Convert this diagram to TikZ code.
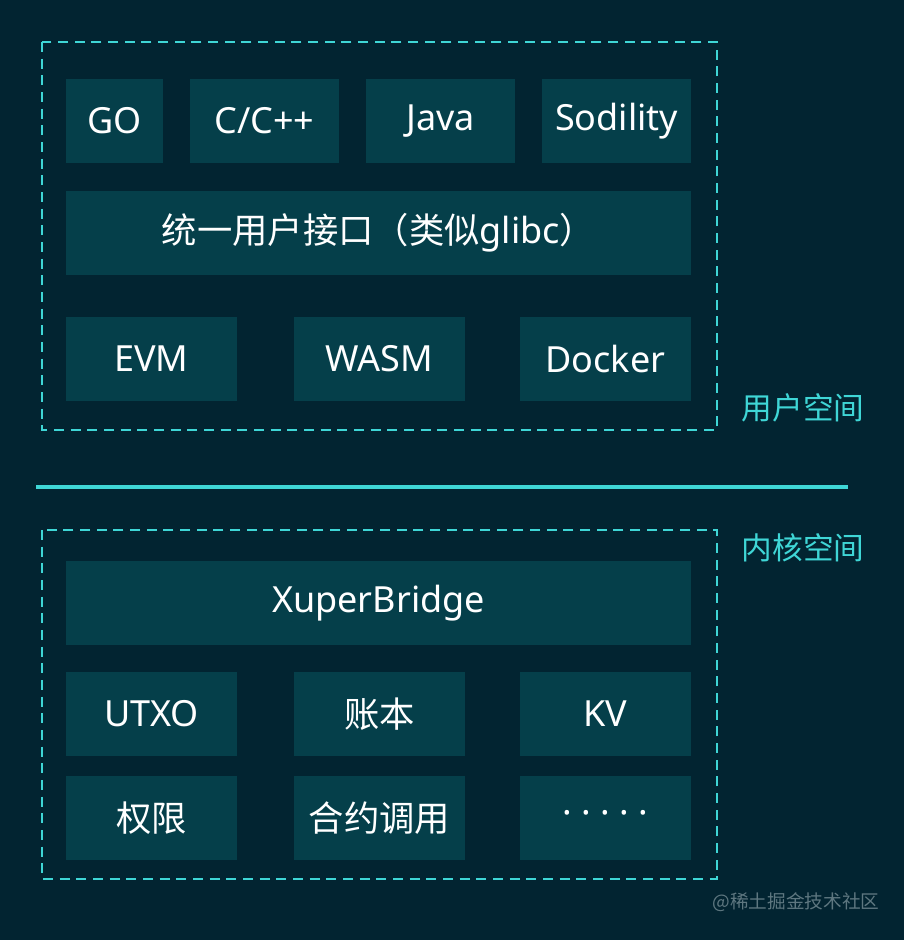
\documentclass[tikz,border=0pt]{standalone}
\usepackage{xcolor}
\usepackage{fontspec}
\setmainfont{Noto Sans}
\newfontfamily\cjk{Noto Sans CJK SC}
\usepackage{tikz}
\usetikzlibrary{positioning}
\definecolor{bgnavy}{HTML}{022431}
\definecolor{boxteal}{HTML}{053F4A}
\definecolor{accentcyan}{HTML}{3FD6D6}
\definecolor{markgray}{HTML}{5E7780}
\newcommand{\dotgap}{\kern7pt}
\newcommand{\cjksize}{\cjk\fontsize{26.5}{30}\selectfont}

\begin{document}
\begin{tikzpicture}[x=0.75pt, y=-0.75pt,
  blk/.style={fill=boxteal, text=white, inner sep=0pt, minimum height=63pt, font=\fontsize{27}{30}\selectfont},
  small/.style={blk, minimum width=72.75pt},
  mid/.style={blk, minimum width=111.75pt},
  wide/.style={blk, minimum width=128.25pt},
  full/.style={blk, minimum width=468.75pt},
  hanzi/.style={font=\cjksize},
  zone/.style={draw=accentcyan, line width=1.5pt, dash pattern=on 7.5pt off 5pt},
  zonelabel/.style={text=accentcyan, font=\cjk\fontsize{23}{28}\selectfont}
]

% Background
\fill[bgnavy] (0,0) rectangle (904,940);
\useasboundingbox (0,0) rectangle (904,940);

% User space
\draw[zone] (42,42) rectangle (717,430);
\node[small] (go) at (114.5,121) {GO};
\node[mid] (cpp) at (264.5,121) {C/C++};
\node[mid] (java) at (440.5,121) {Java};
\node[mid] (sol) at (616.5,121) {Sodility};
\node[full] (api) at (378.5,232.5) {{\cjksize 统一用户接口（类似}glibc{\cjksize ）}};
\node[wide] (evm) at (151.5,359) {EVM};
\node[wide] (wasm) at (379.5,359) {WASM};
\node[wide] (docker) at (605.5,359) {Docker};
\node[zonelabel] (userlbl) at (803,408) {用户空间};

% Divider
\draw[accentcyan, line width=2.4pt] (36,487) -- (848,487);

% Kernel space
\draw[zone] (42,530) rectangle (717,879);
\node[zonelabel] (kernlbl) at (803,548) {内核空间};
\node[full] (bridge) at (378.5,603) {XuperBridge};
\node[wide] (utxo) at (151.5,714) {UTXO};
\node[wide, hanzi] (ledger) at (379.5,714) {账本};
\node[wide] (kv) at (605.5,714) {KV};
\node[wide, hanzi] (acl) at (151.5,818) {权限};
\node[wide, hanzi] (call) at (379.5,818) {合约调用};
\node[wide] (more) at (605.5,818) {·\dotgap·\dotgap·\dotgap·\dotgap·};

% Watermark
\node[text=markgray, font=\cjk\fontsize{14}{17}\selectfont] (wm) at (796,902) {@稀土掘金技术社区};

\end{tikzpicture}
\end{document}
